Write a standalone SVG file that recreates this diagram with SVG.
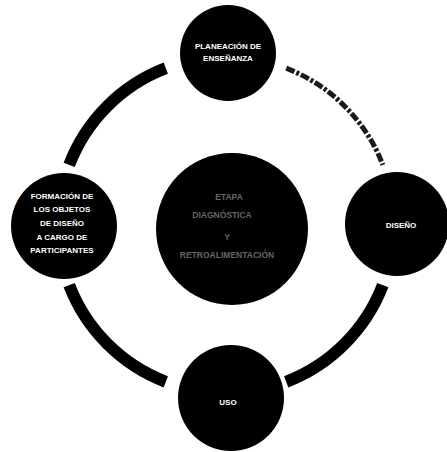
<svg xmlns="http://www.w3.org/2000/svg" width="447" height="452" viewBox="0 0 447 452">
<style>
.node{fill:#000}
.ring{fill:none;stroke:#000;stroke-width:12;stroke-linecap:butt}
.faded{stroke:#1a1a1a;stroke-width:5;stroke-dasharray:9 2 3 2}
.lbl{font-family:"Liberation Sans",Arial,sans-serif;font-weight:bold;font-size:8px;fill:#fff;text-anchor:middle}
.dim{fill:#666;font-size:8.5px}
</style>
<rect width="447" height="452" fill="#fff"/>
<g id="connectors">
<path class="ring" d="M69.2,164.8 A168,168 0 0 1 165.8,68.2"/>
<path class="ring faded" d="M286.2,68.2 A168,168 0 0 1 382.8,164.8"/>
<path class="ring" d="M382.8,285.2 A168,168 0 0 1 286.2,381.8"/>
<path class="ring" d="M165.8,381.8 A168,168 0 0 1 69.2,285.2"/>
</g>
<g id="node-top">
<circle class="node" cx="228" cy="53" r="48"/>
<text class="lbl" x="228" y="49">PLANEACIÓN DE</text>
<text class="lbl" x="228" y="61">ENSEÑANZA</text>
</g>
<g id="node-left">
<circle class="node" cx="64" cy="226" r="53"/>
<text class="lbl" x="62" y="199">FORMACIÓN DE</text>
<text class="lbl" x="62" y="212">LOS OBJETOS</text>
<text class="lbl" x="62" y="226">DE DISEÑO</text>
<text class="lbl" x="62" y="240">A CARGO DE</text>
<text class="lbl" x="62" y="253">PARTICIPANTES</text>
</g>
<g id="node-center">
<circle class="node" cx="232" cy="229" r="76"/>
<text class="lbl dim" x="229" y="200">ETAPA</text>
<text class="lbl dim" x="222" y="218">DIAGNÓSTICA</text>
<text class="lbl dim" x="227" y="240">Y</text>
<text class="lbl dim" x="227" y="258">RETROALIMENTACIÓN</text>
</g>
<g id="node-right">
<circle class="node" cx="397" cy="224" r="52"/>
<text class="lbl" x="401" y="228">DISEÑO</text>
</g>
<g id="node-bottom">
<circle class="node" cx="231" cy="398" r="53"/>
<text class="lbl" x="228" y="405">USO</text>
</g>
</svg>
